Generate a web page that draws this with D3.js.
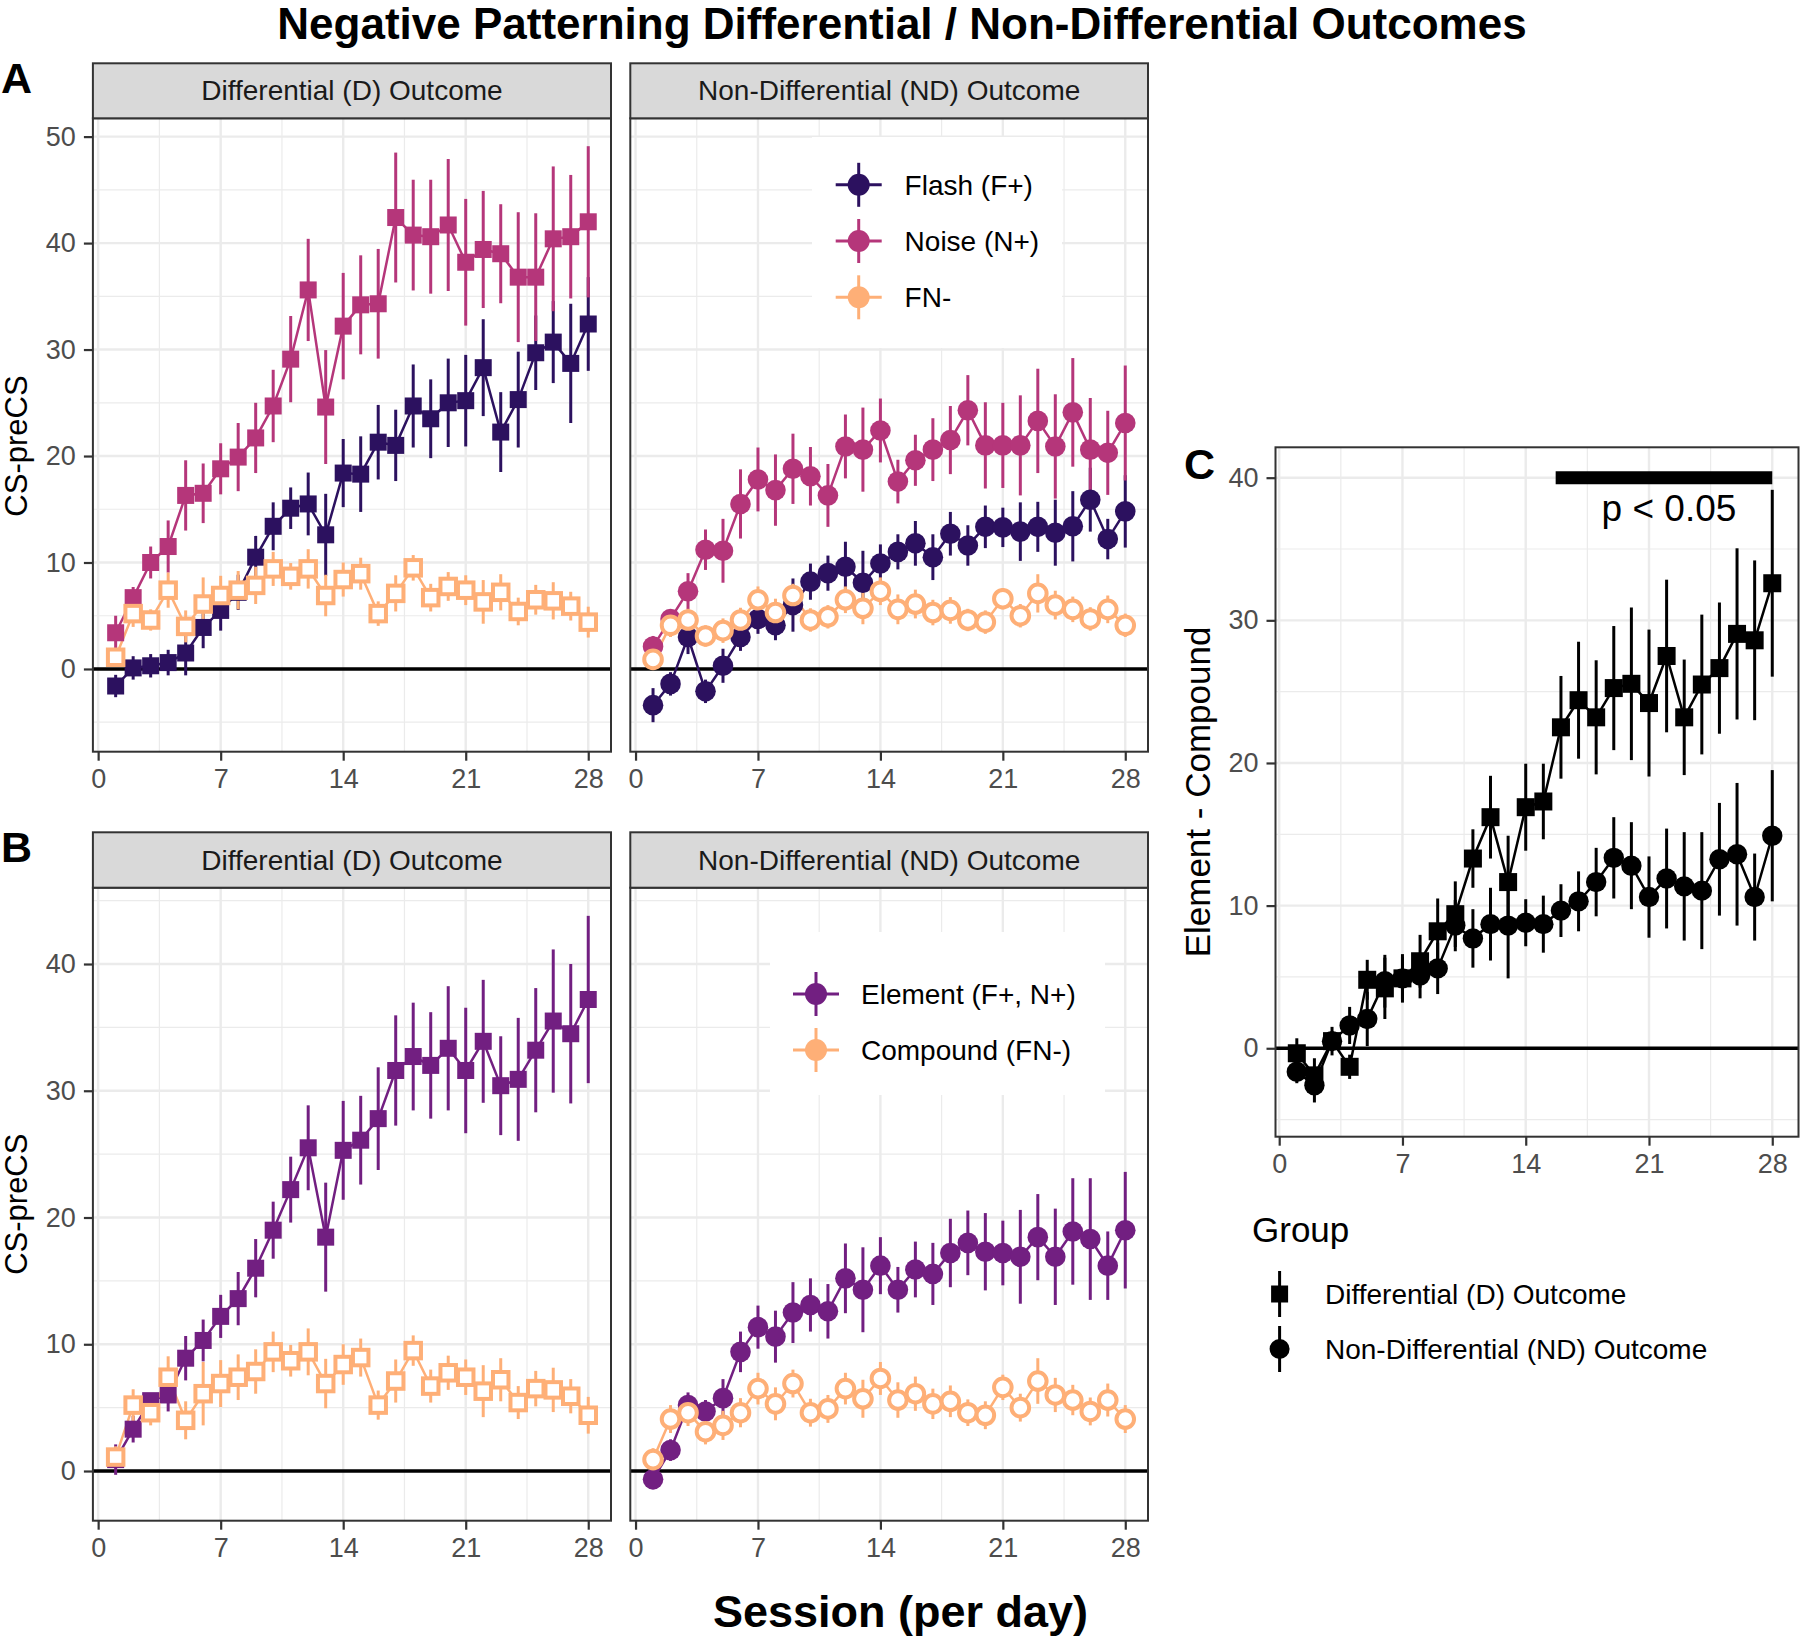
<!DOCTYPE html>
<html>
<head>
<meta charset="utf-8">
<script src="https://cdn.jsdelivr.net/npm/d3@7"></script>
<style>
  body { margin: 0; background: #fff; }
  text { font-family: "Liberation Sans", Arial, sans-serif; }
</style>
</head>
<body>
<svg id="chart" width="1800" height="1637"></svg>
<script>
// ---- données ----
const sessions = [1, 2, 3, 4, 5, 6, 7, 8, 9, 10, 11, 12, 13, 14, 15, 16, 17, 18, 19, 20, 21, 22, 23, 24, 25, 26, 27, 28];
const xBreaks = [0, 7, 14, 21, 28];
const yBreaksA = [0, 10, 20, 30, 40, 50];
const yBreaksB = [0, 10, 20, 30, 40];
const yBreaksC = [0, 10, 20, 30, 40];

// A - Differential (D)
const flashD = [-1.6, 0.1, 0.3, 0.6, 1.5, 3.9, 5.5, 7.2, 10.5, 13.4, 15.1, 15.5, 12.6, 18.4, 18.3, 21.3, 21.0, 24.7, 23.5, 25.0, 25.2, 28.3, 22.25, 25.3, 29.7, 30.7, 28.7, 32.4];
const flashDse = [1.05, 1.1, 1.1, 1.2, 2.1, 1.95, 1.9, 1.65, 2.0, 2.25, 1.95, 2.95, 3.85, 3.2, 3.55, 3.5, 3.35, 3.9, 3.7, 4.15, 4.3, 4.55, 3.75, 4.5, 3.5, 3.85, 5.6, 4.4];
const noiseD = [3.4, 6.7, 10.0, 11.5, 16.3, 16.5, 18.8, 19.9, 21.7, 24.7, 29.1, 35.6, 24.6, 32.2, 34.2, 34.3, 42.4, 40.75, 40.6, 41.7, 38.2, 39.4, 39.0, 36.8, 36.8, 40.4, 40.6, 42.0];
const noiseDse = [1.6, 1.0, 1.5, 2.45, 3.3, 2.8, 2.4, 3.2, 3.3, 3.4, 4.05, 4.8, 5.35, 5.0, 4.65, 5.15, 6.1, 5.2, 5.35, 6.2, 5.95, 5.5, 4.65, 6.1, 6.0, 6.8, 5.8, 7.1];
const compoundD = [1.1, 5.2, 4.6, 7.4, 4.0, 6.1, 6.9, 7.4, 7.85, 9.4, 8.7, 9.4, 6.9, 8.4, 8.95, 5.2, 7.1, 9.5, 6.7, 7.75, 7.4, 6.3, 7.2, 5.4, 6.5, 6.4, 5.9, 4.4];
const compoundDse = [0.85, 1.25, 1.0, 1.65, 1.5, 2.5, 1.85, 1.8, 1.75, 1.6, 1.25, 1.85, 1.95, 1.6, 1.5, 1.15, 1.7, 1.2, 1.3, 1.35, 1.4, 2.05, 1.7, 1.3, 1.4, 1.75, 1.35, 1.45];

// A - Non-Differential (ND)
const flashND = [-3.4, -1.4, 3.0, -2.1, 0.3, 3.0, 4.7, 4.1, 6.0, 8.2, 9.0, 9.6, 8.1, 9.9, 11.0, 11.8, 10.5, 12.7, 11.6, 13.35, 13.3, 12.9, 13.35, 12.8, 13.4, 15.9, 12.2, 14.8];
const flashNDse = [1.6, 1.1, 1.6, 1.1, 1.6, 1.3, 1.4, 1.4, 2.5, 1.7, 1.65, 2.35, 3.0, 1.8, 1.65, 2.1, 2.15, 2.05, 1.9, 2.0, 1.85, 2.75, 2.35, 3.1, 3.3, 3.0, 1.9, 3.4];
const noiseND = [2.1, 4.7, 7.3, 11.2, 11.1, 15.5, 17.8, 16.8, 18.8, 18.1, 16.3, 20.9, 20.6, 22.4, 17.6, 19.6, 20.6, 21.5, 24.3, 21.0, 21.0, 21.0, 23.3, 20.9, 24.1, 20.6, 20.3, 23.1];
const noiseNDse = [1.0, 0.8, 1.7, 1.9, 3.0, 3.25, 3.0, 3.35, 3.3, 2.75, 2.95, 3.0, 3.95, 3.0, 2.05, 2.4, 2.95, 3.2, 3.3, 4.05, 4.0, 4.7, 4.9, 4.9, 5.1, 4.85, 3.95, 5.4];
const compoundND = [0.9, 4.1, 4.6, 3.1, 3.6, 4.6, 6.5, 5.3, 6.9, 4.6, 4.9, 6.5, 5.7, 7.3, 5.6, 6.1, 5.3, 5.5, 4.6, 4.4, 6.6, 5.0, 7.1, 6.0, 5.6, 4.7, 5.6, 4.1];
const compoundNDse = [0.9, 1.1, 1.05, 1.0, 1.15, 1.15, 1.25, 1.3, 1.1, 1.1, 1.1, 1.25, 1.5, 1.3, 1.4, 1.35, 1.2, 1.25, 1.05, 1.1, 1.0, 1.1, 1.8, 1.35, 1.2, 1.1, 1.3, 1.1];

// B - Element
const elementD = [0.9, 3.3, 5.55, 6.0, 8.9, 10.3, 12.2, 13.6, 16.0, 19.0, 22.2, 25.5, 18.45, 25.3, 26.1, 27.8, 31.6, 32.7, 32.0, 33.35, 31.6, 33.9, 30.4, 30.9, 33.2, 35.5, 34.5, 37.2];
const elementDse = [1.2, 1.05, 0.6, 1.3, 1.75, 1.65, 1.7, 2.1, 2.3, 2.25, 2.6, 3.35, 4.3, 3.9, 3.5, 4.05, 4.35, 4.25, 4.2, 4.9, 4.95, 4.85, 3.9, 4.85, 4.9, 5.65, 5.5, 6.6];
const elementND = [-0.65, 1.65, 5.2, 4.7, 5.75, 9.4, 11.35, 10.6, 12.5, 13.1, 12.6, 15.2, 14.3, 16.2, 14.3, 15.9, 15.55, 17.2, 18.0, 17.3, 17.2, 16.9, 18.45, 16.9, 18.9, 18.3, 16.2, 19.0];
const elementNDse = [0.8, 0.85, 1.0, 0.9, 1.5, 1.6, 1.7, 2.05, 2.4, 2.1, 2.15, 2.75, 3.35, 2.25, 1.8, 2.2, 2.45, 2.7, 2.55, 3.05, 2.55, 3.7, 3.4, 3.8, 4.2, 4.8, 2.7, 4.6];

// C - Element - Compound
const diffD = [-0.35, -1.9, 0.5, -1.3, 4.8, 4.2, 4.9, 6.1, 8.2, 9.4, 13.3, 16.2, 11.65, 16.9, 17.3, 22.5, 24.4, 23.2, 25.25, 25.55, 24.2, 27.5, 23.2, 25.5, 26.65, 29.05, 28.6, 32.6];
const diffDse = [1.05, 1.2, 0.7, 0.85, 1.4, 2.15, 1.7, 1.85, 2.3, 2.3, 2.05, 2.9, 3.25, 3.05, 2.65, 3.6, 4.1, 4.0, 4.35, 5.35, 5.15, 5.35, 4.05, 4.9, 4.6, 6.0, 5.6, 6.55];
const diffND = [-1.65, -2.6, 0.5, 1.6, 2.05, 4.7, 4.9, 5.1, 5.6, 8.6, 7.7, 8.7, 8.6, 8.8, 8.7, 9.65, 10.3, 11.65, 13.35, 12.8, 10.6, 11.9, 11.35, 11.05, 13.25, 13.6, 10.6, 14.9];
const diffNDse = [0.8, 1.2, 1.0, 1.3, 1.9, 1.85, 1.5, 1.6, 1.8, 1.8, 2.05, 2.55, 3.7, 1.65, 2.0, 1.85, 2.1, 2.4, 2.85, 3.05, 2.85, 3.5, 3.8, 4.1, 3.95, 5.0, 3.05, 4.6];
const sigSpan = [15.7, 28];
const sigLevel = 40;

// ---- couleurs ----
const colFlash = "#2C115F";
const colNoise = "#B5367A";
const colFN = "#FEAF77";
const colElement = "#721F81";

const svg = d3.select("#chart");

function rows(mean, se) {
  return sessions.map((d, i) => ({ day: d, mean: mean[i], se: se[i] }));
}

// Dessine un panneau façon ggplot theme_bw
function drawPanel(p) {
  const x = d3.scaleLinear().domain(p.xDomain).range([p.left, p.right]);
  const y = d3.scaleLinear().domain(p.yDomain).range([p.bottom, p.top]);
  const g = svg.append("g");

  g.append("rect")
    .attr("x", p.left).attr("y", p.top)
    .attr("width", p.right - p.left).attr("height", p.bottom - p.top)
    .attr("fill", "#fff");

  // grilles mineures
  const xMinor = xBreaks.slice(1).map((b, i) => (b + xBreaks[i]) / 2);
  const step = p.yBreaks[1] - p.yBreaks[0];
  const yMinor = [p.yBreaks[0] - step / 2]
    .concat(p.yBreaks.map((b) => b + step / 2))
    .filter((v) => v > p.yDomain[0] && v < p.yDomain[1]);

  g.selectAll(".xminor").data(xMinor).enter().append("line")
    .attr("x1", (d) => x(d)).attr("x2", (d) => x(d))
    .attr("y1", p.top).attr("y2", p.bottom)
    .attr("stroke", "#EBEBEB").attr("stroke-width", 1.2);
  g.selectAll(".yminor").data(yMinor).enter().append("line")
    .attr("x1", p.left).attr("x2", p.right)
    .attr("y1", (d) => y(d)).attr("y2", (d) => y(d))
    .attr("stroke", "#EBEBEB").attr("stroke-width", 1.2);
  // grilles majeures
  g.selectAll(".xmajor").data(xBreaks).enter().append("line")
    .attr("x1", (d) => x(d)).attr("x2", (d) => x(d))
    .attr("y1", p.top).attr("y2", p.bottom)
    .attr("stroke", "#EBEBEB").attr("stroke-width", 2.4);
  g.selectAll(".ymajor").data(p.yBreaks).enter().append("line")
    .attr("x1", p.left).attr("x2", p.right)
    .attr("y1", (d) => y(d)).attr("y2", (d) => y(d))
    .attr("stroke", "#EBEBEB").attr("stroke-width", 2.4);

  // ligne zéro
  g.append("line")
    .attr("x1", p.left).attr("x2", p.right)
    .attr("y1", y(0)).attr("y2", y(0))
    .attr("stroke", "#000").attr("stroke-width", 3.6);

  if (p.extra) p.extra(g, x, y);

  const line = d3.line().x((d) => x(d.day)).y((d) => y(d.mean));

  // lignes
  p.series.forEach((s) => {
    g.append("path")
      .datum(rows(s.mean, s.se))
      .attr("d", line)
      .attr("fill", "none")
      .attr("stroke", s.color)
      .attr("stroke-width", 2.5);
  });
  // barres d'erreur
  p.series.forEach((s) => {
    g.selectAll(null).data(rows(s.mean, s.se)).enter().append("line")
      .attr("x1", (d) => x(d.day)).attr("x2", (d) => x(d.day))
      .attr("y1", (d) => y(d.mean - d.se)).attr("y2", (d) => y(d.mean + d.se))
      .attr("stroke", s.color).attr("stroke-width", 3);
  });
  // points
  p.series.forEach((s) => {
    const data = rows(s.mean, s.se);
    const size = s.size || 17;
    if (s.shape === "square") {
      const side = s.open ? 15.5 : size;
      g.selectAll(null).data(data).enter().append("rect")
        .attr("x", (d) => x(d.day) - side / 2)
        .attr("y", (d) => y(d.mean) - side / 2)
        .attr("width", side).attr("height", side)
        .attr("fill", s.open ? "#fff" : s.color)
        .attr("stroke", s.open ? s.color : "none")
        .attr("stroke-width", s.open ? 4 : 0);
    } else {
      g.selectAll(null).data(data).enter().append("circle")
        .attr("cx", (d) => x(d.day))
        .attr("cy", (d) => y(d.mean))
        .attr("r", s.open ? 8.8 : (s.r || 10.3))
        .attr("fill", s.open ? "#fff" : s.color)
        .attr("stroke", s.open ? s.color : "none")
        .attr("stroke-width", s.open ? 4 : 0);
    }
  });

  // bordure
  g.append("rect")
    .attr("x", p.left).attr("y", p.top)
    .attr("width", p.right - p.left).attr("height", p.bottom - p.top)
    .attr("fill", "none").attr("stroke", "#333").attr("stroke-width", 2);

  // bandeau de facette
  if (p.strip) {
    g.append("rect")
      .attr("x", p.left).attr("y", p.stripTop)
      .attr("width", p.right - p.left).attr("height", p.top - p.stripTop)
      .attr("fill", "#D9D9D9").attr("stroke", "#333").attr("stroke-width", 2);
    g.append("text")
      .attr("x", (p.left + p.right) / 2)
      .attr("y", (p.stripTop + p.top) / 2 + 9.5)
      .attr("text-anchor", "middle")
      .attr("font-size", 28)
      .attr("fill", "#1A1A1A")
      .text(p.strip);
  }

  // axes
  const xAxis = g.append("g")
    .attr("transform", `translate(0,${p.bottom})`)
    .call(d3.axisBottom(x).tickValues(xBreaks).tickSize(9).tickPadding(8).tickFormat(d3.format("d")));
  styleAxis(xAxis);
  if (p.yAxis) {
    const yAxis = g.append("g")
      .attr("transform", `translate(${p.left},0)`)
      .call(d3.axisLeft(y).tickValues(p.yBreaks).tickSize(9).tickPadding(8).tickFormat(d3.format("d")));
    styleAxis(yAxis);
  }
  return { g, x, y };
}

function styleAxis(a) {
  a.select(".domain").remove();
  a.selectAll(".tick line").attr("stroke", "#333").attr("stroke-width", 2.2);
  a.selectAll(".tick text")
    .attr("fill", "#4D4D4D")
    .style("font-family", '"Liberation Sans", Arial, sans-serif')
    .style("font-size", "27px");
}

// Légende interne (A et B)
function drawInsideLegend(box, items, keyX, rowY, textX) {
  const g = svg.append("g");
  g.append("rect")
    .attr("x", box[0]).attr("y", box[1])
    .attr("width", box[2] - box[0]).attr("height", box[3] - box[1])
    .attr("fill", "#fff");
  items.forEach((it, i) => {
    const cy = rowY[i];
    g.append("line").attr("x1", keyX - 23).attr("x2", keyX + 23)
      .attr("y1", cy).attr("y2", cy)
      .attr("stroke", it.color).attr("stroke-width", 3);
    g.append("line").attr("x1", keyX).attr("x2", keyX)
      .attr("y1", cy - 22).attr("y2", cy + 22)
      .attr("stroke", it.color).attr("stroke-width", 3);
    g.append("circle").attr("cx", keyX).attr("cy", cy).attr("r", 11)
      .attr("fill", it.color);
    g.append("text").attr("x", textX).attr("y", cy + 10)
      .attr("font-size", 28).attr("fill", "#000")
      .text(it.label);
  });
}

// ---- Titre ----
svg.append("text")
  .attr("x", 902).attr("y", 39)
  .attr("text-anchor", "middle")
  .attr("font-size", 44).attr("font-weight", "bold")
  .text("Negative Patterning Differential / Non-Differential Outcomes");

const xDom = [-0.3, 29.3];
const rowA = { stripTop: 63.3, top: 118.3, bottom: 751.7, yDomain: [-7.77, 51.72], yBreaks: yBreaksA };
const rowB = { stripTop: 832.3, top: 887.7, bottom: 1520.7, yDomain: [-3.92, 46.02], yBreaks: yBreaksB };
const colD = { left: 92.9, right: 611 };
const colND = { left: 630.3, right: 1148 };

// ---- A ----
drawPanel({
  ...rowA, ...colD, xDomain: xDom, yAxis: true,
  strip: "Differential (D) Outcome",
  series: [
    { mean: flashD, se: flashDse, color: colFlash, shape: "square" },
    { mean: noiseD, se: noiseDse, color: colNoise, shape: "square" },
    { mean: compoundD, se: compoundDse, color: colFN, shape: "square", open: true },
  ],
});
drawPanel({
  ...rowA, ...colND, xDomain: xDom, yAxis: false,
  strip: "Non-Differential (ND) Outcome",
  series: [
    { mean: flashND, se: flashNDse, color: colFlash, shape: "circle" },
    { mean: noiseND, se: noiseNDse, color: colNoise, shape: "circle" },
    { mean: compoundND, se: compoundNDse, color: colFN, shape: "circle", open: true },
  ],
});
drawInsideLegend([812, 137, 1062, 348],
  [{ label: "Flash (F+)", color: colFlash }, { label: "Noise (N+)", color: colNoise }, { label: "FN-", color: colFN }],
  858.7, [184.8, 241, 297.3], 904.6);

// ---- B ----
drawPanel({
  ...rowB, ...colD, xDomain: xDom, yAxis: true,
  strip: "Differential (D) Outcome",
  series: [
    { mean: elementD, se: elementDse, color: colElement, shape: "square" },
    { mean: compoundD, se: compoundDse, color: colFN, shape: "square", open: true },
  ],
});
drawPanel({
  ...rowB, ...colND, xDomain: xDom, yAxis: false,
  strip: "Non-Differential (ND) Outcome",
  series: [
    { mean: elementND, se: elementNDse, color: colElement, shape: "circle" },
    { mean: compoundND, se: compoundNDse, color: colFN, shape: "circle", open: true },
  ],
});
drawInsideLegend([770, 932, 1105, 1095],
  [{ label: "Element (F+, N+)", color: colElement }, { label: "Compound (FN-)", color: colFN }],
  816, [994, 1050], 861);

// ---- C ----
drawPanel({
  top: 447.3, bottom: 1136.7, left: 1275.5, right: 1798.5,
  xDomain: [-0.21, 29.49], yDomain: [-6.2, 42.13], yBreaks: yBreaksC, yAxis: true,
  series: [
    { mean: diffD, se: diffDse, color: "#000", shape: "square", size: 18 },
    { mean: diffND, se: diffNDse, color: "#000", shape: "circle", r: 10.2 },
  ],
  extra: (g, x, y) => {
    g.append("line")
      .attr("x1", x(sigSpan[0])).attr("x2", x(sigSpan[1]))
      .attr("y1", y(sigLevel)).attr("y2", y(sigLevel))
      .attr("stroke", "#000").attr("stroke-width", 13);
    g.append("text")
      .attr("x", x((sigSpan[0] + sigSpan[1]) / 2) + 5)
      .attr("y", y(sigLevel) + 43)
      .attr("text-anchor", "middle")
      .attr("font-size", 37).attr("fill", "#000")
      .text("p < 0.05");
  },
});

// légende C
const legC = svg.append("g");
legC.append("text").attr("x", 1252).attr("y", 1242).attr("font-size", 35).text("Group");
[{ label: "Differential (D) Outcome", shape: "square", cy: 1294 },
 { label: "Non-Differential (ND) Outcome", shape: "circle", cy: 1349 }].forEach((it) => {
  legC.append("line").attr("x1", 1279.6).attr("x2", 1279.6)
    .attr("y1", it.cy - 23).attr("y2", it.cy + 23)
    .attr("stroke", "#000").attr("stroke-width", 3);
  if (it.shape === "square") {
    legC.append("rect").attr("x", 1279.6 - 8.5).attr("y", it.cy - 8.5)
      .attr("width", 17).attr("height", 17).attr("fill", "#000");
  } else {
    legC.append("circle").attr("cx", 1279.6).attr("cy", it.cy).attr("r", 10).attr("fill", "#000");
  }
  legC.append("text").attr("x", 1325).attr("y", it.cy + 10).attr("font-size", 28).text(it.label);
});

// ---- titres d'axes et lettres ----
function yTitle(txt, cx, cy, size) {
  svg.append("text")
    .attr("transform", `translate(${cx},${cy}) rotate(-90)`)
    .attr("text-anchor", "middle")
    .attr("dy", "0.35em")
    .attr("font-size", size)
    .text(txt);
}
yTitle("CS-preCS", 16, 446, 31);
yTitle("CS-preCS", 16, (rowB.top + rowB.bottom) / 2, 31);
yTitle("Element - Compound", 1198, (447.3 + 1136.7) / 2, 35);

svg.append("text")
  .attr("x", 900.5).attr("y", 1627)
  .attr("text-anchor", "middle")
  .attr("font-size", 45).attr("font-weight", "bold")
  .text("Session (per day)");

[["A", 1, 93], ["B", 1, 862], ["C", 1184, 479]].forEach(([t, px, py]) => {
  svg.append("text").attr("x", px).attr("y", py)
    .attr("font-size", 43).attr("font-weight", "bold").text(t);
});
</script>
</body>
</html>
